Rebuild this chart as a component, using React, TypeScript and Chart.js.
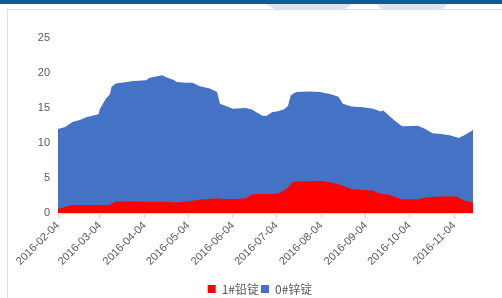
import React, { useEffect, useRef } from "react";
import { Chart, registerables } from "chart.js";

Chart.register(...registerables);

const dates = [
  "2016-02-04", "2016-02-09", "2016-02-14", "2016-02-19", "2016-02-24", "2016-03-03", "2016-03-04",
  "2016-03-08", "2016-03-11", "2016-03-12", "2016-03-15", "2016-03-27", "2016-04-05", "2016-04-07",
  "2016-04-16", "2016-04-19", "2016-04-24", "2016-04-26", "2016-05-03", "2016-05-07", "2016-05-12",
  "2016-05-19", "2016-05-24", "2016-05-26", "2016-05-31", "2016-06-04", "2016-06-13", "2016-06-17",
  "2016-06-24", "2016-06-27", "2016-07-01", "2016-07-05", "2016-07-09", "2016-07-12", "2016-07-14",
  "2016-07-16", "2016-07-18", "2016-07-27", "2016-08-03", "2016-08-10", "2016-08-16", "2016-08-19",
  "2016-08-25", "2016-09-02", "2016-09-09", "2016-09-14", "2016-09-16", "2016-09-20", "2016-09-25",
  "2016-09-29", "2016-10-10", "2016-10-15", "2016-10-20", "2016-10-26", "2016-11-01", "2016-11-06",
  "2016-11-07", "2016-11-11", "2016-11-16", "2016-11-17",
];

const zincValues = [
  12.0, 12.3, 13.0, 13.3, 13.7, 14.1, 14.9,
  16.3, 17.0, 18.0, 18.5, 18.85, 18.95, 19.3,
  19.67, 19.4, 19.0, 18.7, 18.6, 18.6, 18.1,
  17.8, 17.3, 15.6, 15.2, 14.9, 15.0, 14.8,
  13.94, 13.84, 14.4, 14.55, 14.8, 15.3, 16.8,
  17.1, 17.3, 17.35, 17.3, 17.0, 16.6, 15.6,
  15.2, 15.1, 14.9, 14.5, 14.65, 13.9, 13.0,
  12.4, 12.45, 12.0, 11.4, 11.3, 11.1, 10.8,
  10.7, 11.1, 11.7, 11.9,
];

const leadValues = [
  0.57, 0.9, 1.15, 1.15, 1.15, 1.15, 1.15,
  1.15, 1.15, 1.3, 1.66, 1.66, 1.62, 1.62,
  1.6, 1.6, 1.5, 1.5, 1.66, 1.75, 1.9,
  2.0, 2.1, 2.05, 2.0, 2.0, 2.1, 2.65,
  2.7, 2.7, 2.7, 2.75, 3.2, 3.6, 4.1,
  4.45, 4.5, 4.55, 4.6, 4.4, 4.1, 3.9,
  3.44, 3.3, 3.2, 2.75, 2.7, 2.6, 2.2,
  1.95, 1.95, 2.2, 2.3, 2.35, 2.35, 2.35,
  2.2, 1.76, 1.55, 1.5,
];

const tickLabels = [
  "2016-02-04", "2016-03-04", "2016-04-04", "2016-05-04", "2016-06-04",
  "2016-07-04", "2016-08-04", "2016-09-04", "2016-10-04", "2016-11-04",
];

const seriesNames = ["1#铅锭", "0#锌锭"];

const DAY = 86400000;
const toMs = (s: string) => {
  const [y, m, d] = s.split("-").map(Number);
  return Date.UTC(y, m - 1, d);
};
const startMs = toMs(dates[0]);
const toDay = (s: string) => Math.round((toMs(s) - startMs) / DAY);
const fromDay = (v: number) => {
  const dt = new Date(startMs + v * DAY);
  const mm = String(dt.getUTCMonth() + 1).padStart(2, "0");
  const dd = String(dt.getUTCDate()).padStart(2, "0");
  return `${dt.getUTCFullYear()}-${mm}-${dd}`;
};

const legendShift = {
  id: "legendShift",
  afterLayout(chart: any) {
    const lg = chart.legend;
    if (lg) {
      lg.left += 47;
      lg.right += 0;
    }
  },
};

export default function App() {
  const ref = useRef<HTMLCanvasElement | null>(null);

  useEffect(() => {
    if (!ref.current) return;
    const xs = dates.map(toDay);
    const tickDays = tickLabels.map(toDay);
    const chart = new Chart(ref.current, {
      type: "line",
      data: {
        datasets: [
          {
            label: seriesNames[0],
            data: xs.map((x, i) => ({ x, y: leadValues[i] })),
            backgroundColor: "#ff0000",
            borderColor: "#ff0000",
            borderWidth: 0,
            pointRadius: 0,
            fill: "origin",
          },
          {
            label: seriesNames[1],
            data: xs.map((x, i) => ({ x, y: zincValues[i] })),
            backgroundColor: "#4472c4",
            borderColor: "#4472c4",
            borderWidth: 0,
            pointRadius: 0,
            fill: "origin",
          },
        ],
      },
      plugins: [legendShift],
      options: {
        animation: false,
        responsive: false,
        layout: { padding: { left: 0, right: 29, top: 38, bottom: 0 } },
        plugins: {
          tooltip: { enabled: false },
          legend: {
            position: "bottom",
            labels: {
              boxWidth: 8,
              boxHeight: 8,
              padding: 2,
              color: "#595959",
              font: { size: 12, family: "'Noto Sans CJK SC', 'Liberation Sans', sans-serif" },
            },
          },
        },
        scales: {
          x: {
            type: "linear",
            min: 0,
            max: xs[xs.length - 1],
            afterBuildTicks: (scale: any) => {
              scale.ticks = tickDays.map((v) => ({ value: v }));
            },
            afterFit: (scale: any) => {
              scale.height = 68;
            },
            grid: {
              display: true,
              drawOnChartArea: false,
              drawTicks: true,
              tickLength: 5,
              color: "#d9d9d9",
            },
            border: { display: true, color: "#d9d9d9" },
            ticks: {
              autoSkip: false,
              maxRotation: 45,
              minRotation: 45,
              padding: 1,
              color: "#595959",
              font: { size: 11, family: "'Liberation Sans', sans-serif" },
              callback: (v: any) => fromDay(Number(v)),
            },
          },
          y: {
            min: 0,
            max: 25,
            afterFit: (scale: any) => {
              scale.width = 58;
            },
            grid: { display: false, drawTicks: false },
            border: { display: false },
            ticks: {
              stepSize: 5,
              padding: 8,
              color: "#595959",
              font: { size: 11, family: "'Liberation Sans', sans-serif" },
            },
          },
        },
      },
    });
    return () => chart.destroy();
  }, []);

  return (
    <div
      style={{
        position: "fixed",
        left: 0,
        top: 0,
        width: 502,
        height: 298,
        overflow: "hidden",
        background: "#ffffff",
      }}
    >
      <div style={{ position: "absolute", left: 0, top: 0, width: 502, height: 4, background: "#0b5d99" }} />
      <div
        style={{
          position: "absolute",
          left: 266,
          top: 4,
          width: 86,
          height: 5,
          background: "#d6e4f3",
          clipPath: "polygon(0 0, 100% 0, 92% 100%, 10% 100%)",
        }}
      />
      <div
        style={{
          position: "absolute",
          left: 376,
          top: 4,
          width: 72,
          height: 5,
          background: "#d6e4f3",
          clipPath: "polygon(0 0, 100% 0, 92% 100%, 8% 100%)",
        }}
      />
      <div
        style={{
          position: "absolute",
          left: 7,
          top: 9,
          width: 520,
          height: 320,
          border: "1px solid #e0e0e0",
          boxSizing: "border-box",
        }}
      />
      <canvas
        ref={ref}
        width={502}
        height={305}
        style={{ position: "absolute", left: 0, top: 0, width: 502, height: 305 }}
      />
    </div>
  );
}
